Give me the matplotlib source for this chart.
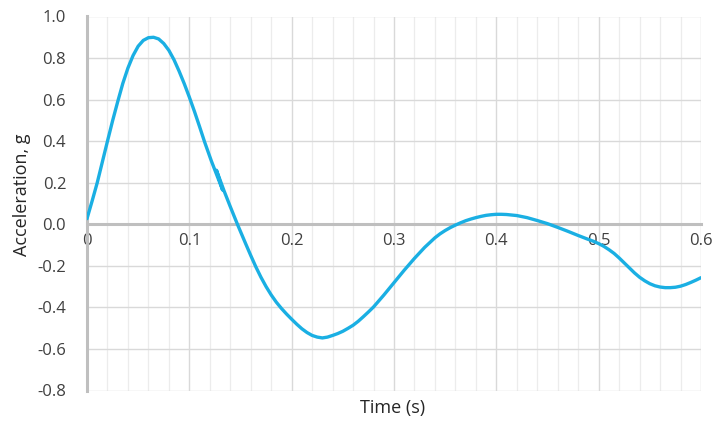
import matplotlib
matplotlib.use("Agg")
import matplotlib.pyplot as plt
from matplotlib.ticker import MultipleLocator, FixedLocator

plt.rcParams['font.family'] = ['Open Sans', 'DejaVu Sans']

time_s = [0.0, 0.005, 0.01, 0.015, 0.02, 0.025, 0.03, 0.035, 0.04, 0.045,
          0.05, 0.055, 0.06, 0.065, 0.07, 0.075, 0.08, 0.085, 0.09, 0.095,
          0.10, 0.105, 0.11, 0.115, 0.1215, 0.1325, 0.1265, 0.134, 0.14, 0.147,
          0.15, 0.155, 0.16, 0.165, 0.17, 0.175, 0.18, 0.185, 0.19, 0.195,
          0.20, 0.205, 0.21, 0.215, 0.22, 0.225, 0.23, 0.235, 0.24, 0.245,
          0.25, 0.255, 0.26, 0.265, 0.27, 0.275, 0.28, 0.29, 0.30, 0.31,
          0.32, 0.33, 0.34, 0.345, 0.35, 0.355, 0.36, 0.365, 0.37, 0.375,
          0.38, 0.385, 0.39, 0.395, 0.40, 0.405, 0.41, 0.42, 0.43, 0.44,
          0.45, 0.46, 0.47, 0.48, 0.49, 0.495, 0.50, 0.505, 0.51, 0.515,
          0.52, 0.525, 0.53, 0.535, 0.54, 0.545, 0.55, 0.555, 0.56, 0.565,
          0.57, 0.575, 0.58, 0.585, 0.59, 0.595, 0.60]
accel_g = [0.027, 0.112, 0.2, 0.3, 0.4, 0.498, 0.59, 0.678, 0.752, 0.812,
           0.857, 0.885, 0.898, 0.90, 0.892, 0.87, 0.837, 0.792, 0.737, 0.677,
           0.612, 0.543, 0.47, 0.395, 0.305, 0.165, 0.26, 0.16, 0.085, 0.0,
           -0.035, -0.093, -0.15, -0.205, -0.255, -0.3, -0.34, -0.375, -0.405, -0.432,
           -0.457, -0.481, -0.503, -0.521, -0.535, -0.543, -0.547, -0.543, -0.535, -0.526,
           -0.515, -0.501, -0.486, -0.467, -0.445, -0.422, -0.398, -0.341, -0.281, -0.221,
           -0.164, -0.111, -0.065, -0.046, -0.03, -0.016, -0.004, 0.007, 0.017, 0.025,
           0.032, 0.038, 0.043, 0.046, 0.048, 0.048, 0.047, 0.042, 0.032, 0.018,
           0.003, -0.015, -0.034, -0.054, -0.073, -0.082, -0.093, -0.106, -0.122, -0.14,
           -0.162, -0.186, -0.21, -0.234, -0.255, -0.272, -0.286, -0.296, -0.302, -0.305,
           -0.305, -0.303, -0.298, -0.29, -0.28, -0.269, -0.257]

x_ticks = [0.0, 0.1, 0.2, 0.3, 0.4, 0.5, 0.6]
x_tick_labels = ['0', '0.1', '0.2', '0.3', '0.4', '0.5', '0.6']
y_ticks = [-0.8, -0.6, -0.4, -0.2, 0.0, 0.2, 0.4, 0.6, 0.8, 1.0]
y_tick_labels = ['-0.8', '-0.6', '-0.4', '-0.2', '0.0', '0.2', '0.4', '0.6', '0.8', '1.0']

fig = plt.figure(figsize=(7.12, 4.21), dpi=100)
ax = fig.add_axes([87/712, 1 - 390.5/421, 614/712, 374/421])

ax.set_xlim(0, 0.6)
ax.set_ylim(-0.8, 1.0)

ax.xaxis.set_major_locator(FixedLocator(x_ticks))
ax.xaxis.set_minor_locator(MultipleLocator(0.02))
ax.set_xticks(x_ticks)
ax.set_xticklabels(x_tick_labels)
ax.set_yticks(y_ticks)
ax.set_yticklabels(y_tick_labels)

ax.grid(which='major', axis='both', color='#d9d9d9', linewidth=1.0)
ax.grid(which='minor', axis='x', color='#ececec', linewidth=0.9)
ax.set_axisbelow(True)

for s in ['top', 'right']:
    ax.spines[s].set_visible(False)
ax.spines['left'].set_color('#bfbfbf')
ax.spines['left'].set_linewidth(2.2)
ax.spines['bottom'].set_position(('data', 0))
ax.spines['bottom'].set_color('#bfbfbf')
ax.spines['bottom'].set_linewidth(2.2)

ax.tick_params(axis='both', which='both', length=0, labelsize=12, colors='#404040')
ax.tick_params(axis='x', pad=6)
ax.tick_params(axis='y', pad=15)

ax.plot(time_s, accel_g, color='#1aafe3', linewidth=2.4, solid_joinstyle='round',
        solid_capstyle='round', zorder=3)

fig.text(393/712, 1 - 408/421, 'Time (s)', ha='center', va='center', fontsize=13, color='#262626')
fig.text(22/712, 1 - 195/421, 'Acceleration, g', ha='center', va='center', rotation=90,
         fontsize=13, color='#262626')

fig.savefig('out.png', dpi=100)
